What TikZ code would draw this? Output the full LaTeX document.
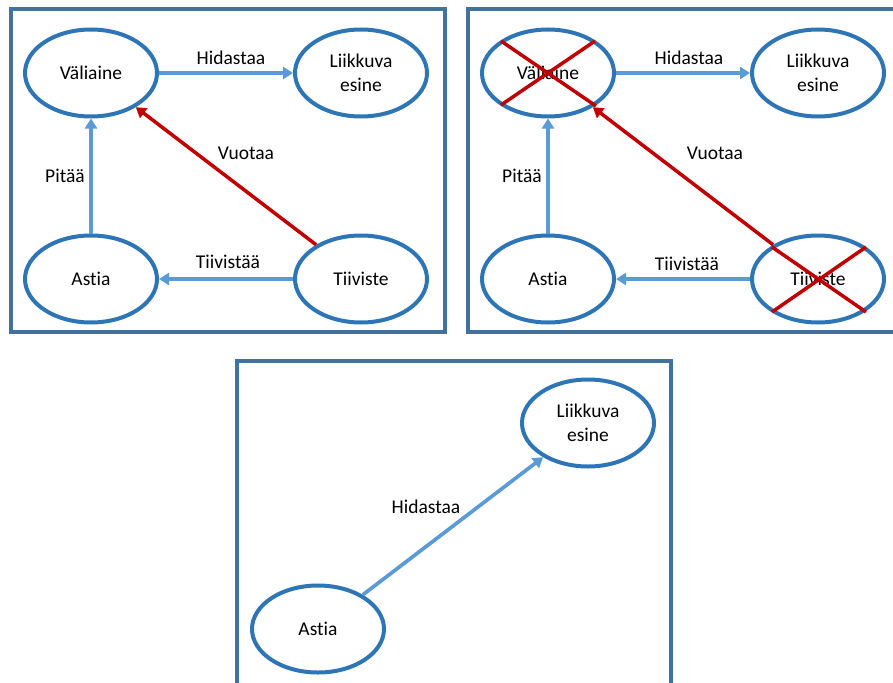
\documentclass[tikz,border=0pt]{standalone}
\usepackage{fontspec}
\setmainfont{Carlito}[Ligatures=NoCommon]
\usetikzlibrary{shapes.geometric,arrows.meta}
\definecolor{frameblue}{HTML}{41719C}
\definecolor{ringblue}{HTML}{2E75B6}
\definecolor{linkblue}{HTML}{5B9BD5}
\definecolor{leakred}{HTML}{C00000}

\begin{document}
\begin{tikzpicture}[x=1pt, y=-1pt,
    frame/.style={draw=frameblue, line width=4pt},
    thing/.style={ellipse, draw=ringblue, line width=4pt, fill=white,
        minimum width=132pt, minimum height=87pt, inner sep=0pt,
        align=center, font=\fontsize{19.5}{24}\selectfont},
    link/.style={-{Triangle[length=10pt,width=12pt]}, linkblue, line width=3.7pt},
    leak/.style={-{Triangle[length=10pt,width=12pt]}, leakred, line width=3.5pt},
    lbl/.style={font=\fontsize{19.5}{24}\selectfont, inner sep=0pt},
    cross/.style={leakred, line width=3.5pt}]

    \useasboundingbox (0,0) rectangle (893,682);
    \clip (0,0) rectangle (893,682);

    % Kehykset
    \draw[frame] (11,9.5) rectangle (444.5,332);
    \draw[frame] (468,9.5) rectangle (901.5,332);
    \draw[frame] (237,361) rectangle (670.5,700);

    % Vasen kuva
    \node[thing] (val1) at (91,73) {Väliaine};
    \node[thing] (lii1) at (361,73) {Liikkuva\\esine};
    \node[thing] (ast1) at (91,279) {Astia};
    \node[thing] (tii1) at (361,279) {Tiiviste};

    \draw[link] (val1.east) -- (lii1.west);
    \draw[link] (ast1.north) -- (val1.south);
    \draw[link] (tii1.west) -- (ast1.east);
    \draw[leak] (tii1) -- (val1);

    \node[lbl] (hid1) at (231,58) {Hidastaa};
    \node[lbl] (pit1) at (65,176) {Pitää};
    \node[lbl] (vuo1) at (246,153) {Vuotaa};
    \node[lbl] (tis1) at (228,262) {Tiivistää};

    % Oikea kuva (yliviivatut)
    \node[thing] (val2) at (548,73) {Väliaine};
    \node[thing] (lii2) at (818,73) {Liikkuva\\esine};
    \node[thing] (ast2) at (548,279) {Astia};
    \node[thing] (tii2) at (818,279) {Tiiviste};

    \draw[link] (val2.east) -- (lii2.west);
    \draw[link] (ast2.north) -- (val2.south);
    \draw[link] (tii2.west) -- (ast2.east);
    \draw[leak] (tii2) -- (val2);

    \node[lbl] (hid2) at (689,58) {Hidastaa};
    \node[lbl] (pit2) at (522,176) {Pitää};
    \node[lbl] (vuo2) at (715,153) {Vuotaa};
    \node[lbl] (tis2) at (687,264) {Tiivistää};

    \draw[cross] (501,41) -- (596,106);
    \draw[cross] (595,41) -- (501,105);
    \draw[cross] (772,247) -- (866,312);
    \draw[cross] (866,247) -- (772,312);

    % Alempi kuva
    \node[thing] (lii3) at (588,423) {Liikkuva\\esine};
    \node[thing] (ast3) at (318,629) {Astia};

    \draw[link] (ast3) -- (lii3);
    \node[lbl] (hid3) at (426,507) {Hidastaa};

\end{tikzpicture}
\end{document}
